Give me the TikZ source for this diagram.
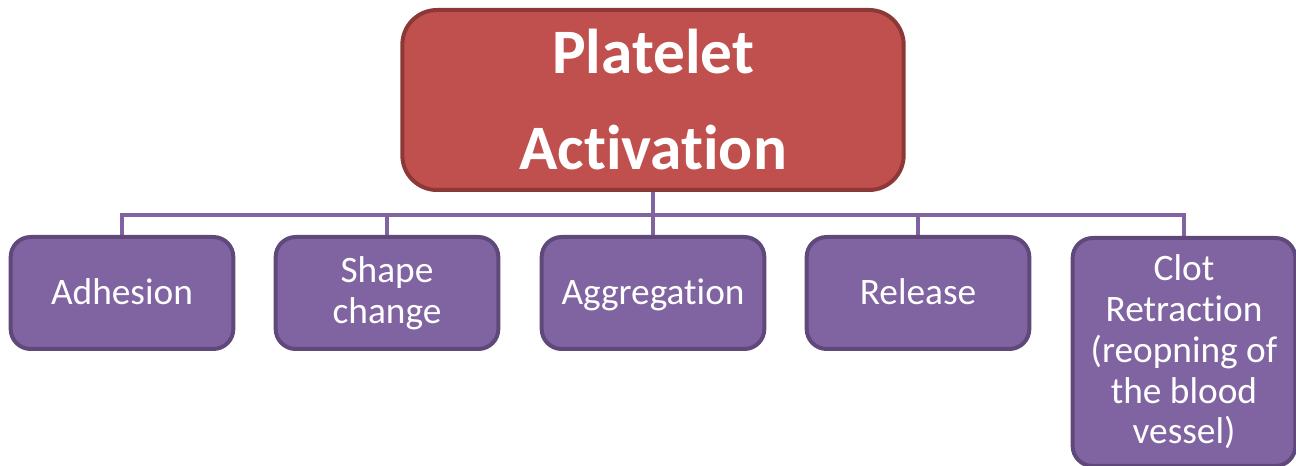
\documentclass[tikz,border=0pt]{standalone}
\usepackage{fontspec}
\setmainfont{Carlito}[Ligatures=NoCommon]
\usetikzlibrary{backgrounds}
\definecolor{rootfill}{HTML}{C0504D}
\definecolor{rootline}{HTML}{8C3836}
\definecolor{leaffill}{HTML}{8064A2}
\definecolor{leafline}{HTML}{5F497A}
\tikzset{
  rootbox/.style={draw=rootline, fill=rootfill, line width=3pt, rounded corners=26pt,
    minimum width=376pt, minimum height=135pt, text=white, align=center, inner sep=0pt,
    font=\fontsize{47.5}{72}\selectfont\bfseries},
  leafbox/.style={draw=leafline, fill=leaffill, line width=3pt, rounded corners=15pt,
    minimum width=167pt, minimum height=84pt, text=white, inner sep=0pt,
    font=\fontsize{28}{30.6}\selectfont},
  multiline/.style={align=center},
  oneline/.style={text height=18pt, text depth=0pt},
  link/.style={draw=leaffill, line width=3pt}
}
\begin{document}
\begin{tikzpicture}[x=0.75pt, y=-0.75pt]
  \useasboundingbox (0,0) rectangle (1296,466);
  \node[rootbox] (root) at (653,100) {Platelet\\Activation};
  \node[leafbox, oneline] (adh) at (122,293) {Adhesion};
  \node[leafbox, multiline] (shape) at (387,293) {Shape\\change};
  \node[leafbox, oneline] (agg) at (653,293) {Aggregation};
  \node[leafbox, oneline] (rel) at (918,293) {Release};
  \node[leafbox, multiline, minimum height=171pt] (clot) at (1184,352)
    {Clot\\Retraction\\(reopning of\\the blood\\vessel)};
  \coordinate (bus) at (653,215);
  \begin{scope}[on background layer]
    \foreach \c in {adh,shape,agg,rel,clot}
      \draw[link] (root.south) -- (root.south |- bus) -| (\c.north);
  \end{scope}
\end{tikzpicture}
\end{document}
